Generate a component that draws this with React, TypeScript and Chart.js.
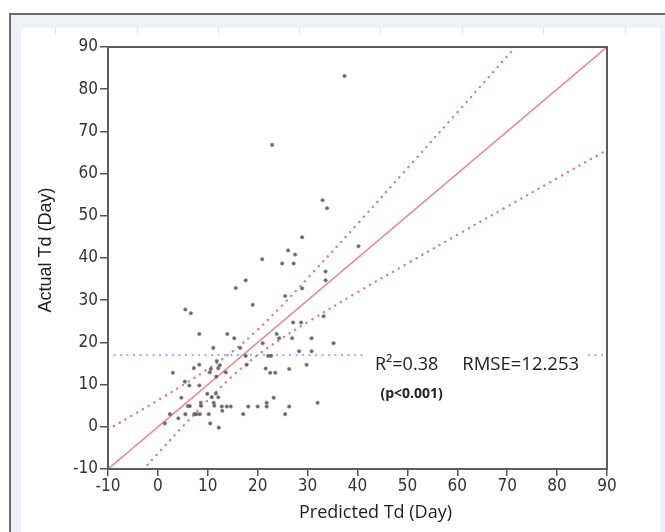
import React, { useEffect, useRef } from "react";
import { Chart, registerables } from "chart.js";

Chart.register(...registerables);

// ---------- data ----------
const predictedTd = [
  37.4, 22.9, 33.0, 33.9, 28.9, 40.2, 26.1, 27.5, 20.9, 24.9, 27.2, 33.6, 33.6, 17.6, 15.6, 28.9,
  25.5, 19.0, 5.5, 6.6, 33.2, 27.1, 28.7, 8.3, 13.9, 15.3, 23.8, 24.3, 26.9, 30.8, 35.2, 21.0,
  16.5, 11.1, 28.3, 30.8, 22.1, 22.7, 17.6, 11.8, 12.4, 8.3, 7.2, 17.8, 10.6, 10.4, 12.1, 13.6,
  3.0, 21.6, 22.5, 23.5, 26.3, 29.8, 11.7, 5.4, 6.3, 8.3, 4.7, 9.9, 11.6, 10.8, 12.1, 23.2,
  32.0, 21.8, 21.8, 26.3, 25.5, 20.0, 18.1, 17.1, 12.8, 13.8, 14.6, 11.2, 11.3, 8.6, 8.6, 6.0,
  6.4, 7.3, 7.7, 8.4, 5.5, 10.2, 12.9, 2.4, 4.1, 10.5, 12.2, 1.4,
];
const actualTd = [
  83.1, 66.8, 53.7, 51.8, 44.9, 42.8, 41.8, 40.8, 39.7, 38.7, 38.7, 36.8, 34.7, 34.7, 32.9, 32.8,
  31.0, 28.9, 27.8, 26.9, 26.2, 24.7, 24.7, 22.0, 22.0, 21.0, 22.0, 21.0, 21.0, 21.0, 19.8, 19.8,
  18.7, 18.7, 17.9, 17.9, 16.8, 16.8, 16.8, 15.6, 14.6, 14.7, 13.9, 14.7, 13.7, 12.9, 13.9, 12.9,
  12.8, 13.8, 12.8, 12.8, 13.7, 14.7, 11.9, 10.7, 9.8, 9.8, 6.9, 7.8, 7.9, 7.0, 7.0, 6.9,
  5.7, 5.7, 4.8, 4.8, 3.0, 4.8, 4.8, 3.0, 4.8, 4.8, 4.8, 5.7, 5.0, 5.7, 5.0, 4.9,
  4.9, 3.0, 3.0, 3.0, 3.0, 3.0, 3.8, 3.0, 2.0, 0.8, -0.2, 0.8,
];

const fitLineX = [-10, 90];
const fitLineY = [-10, 90];

const upperBandX = [-10, -5, 0, 5, 10, 15, 20, 25, 30, 40, 50, 60, 72];
const upperBandY = [-0.6, 2.8, 6.3, 9.9, 13.7, 17.9, 23.0, 28.9, 35.2, 48.1, 61.3, 74.5, 90.5];

const lowerBandX = [-3, 0, 5, 10, 15, 20, 25, 30, 40, 50, 60, 70, 80, 90];
const lowerBandY = [-10.2, -6.3, 0.1, 6.3, 12.1, 17.0, 21.1, 24.8, 31.9, 38.7, 45.5, 52.2, 58.9, 65.6];

const meanActual = 17;
const axisMin = -10;
const axisMax = 90;
const axisStep = 10;

const xAxisTitle = "Predicted Td (Day)";
const yAxisTitle = "Actual Td (Day)";
const r2Label = "R\u00B2=0.38";
const rmseLabel = "RMSE=12.253";
const pLabel = "(p<0.001)";

// where the statistics label sits (in data units)
const statsAnchorX = 43.5;
const rmseAnchorX = 61.0;
const pAnchorX = 44.6;
const pAnchorY = 7.8;

const toPoints = (xs: number[], ys: number[]) => xs.map((x, i) => ({ x, y: ys[i] }));

const tickFont = "'DejaVu Sans', sans-serif";
const calibriLike = "'Open Sans', 'Noto Sans', sans-serif";

const overlayPlugin = {
  id: "overlay",
  afterDraw(chart: any) {
    const { ctx, chartArea: a, scales } = chart;
    ctx.save();
    // frame around plot
    ctx.strokeStyle = "#5c5c5c";
    ctx.lineWidth = 2;
    ctx.strokeRect(a.left, a.top, a.right - a.left, a.bottom - a.top);

    // statistics label with white backing
    const sx = scales.x.getPixelForValue(statsAnchorX);
    const rx = scales.x.getPixelForValue(rmseAnchorX);
    const sy = scales.y.getPixelForValue(meanActual) + 10;
    ctx.fillStyle = "#ffffff";
    ctx.fillRect(sx - 8, sy - 18, rx - sx + 132, 32);
    ctx.fillStyle = "#222222";
    ctx.textBaseline = "middle";
    ctx.textAlign = "left";
    ctx.font = `400 18px ${calibriLike}`;
    ctx.fillText(r2Label, sx, sy);
    ctx.font = `400 18.5px ${calibriLike}`;
    ctx.fillText(rmseLabel, rx, sy);
    ctx.font = `700 14px ${calibriLike}`;
    ctx.fillText(pLabel, scales.x.getPixelForValue(pAnchorX), scales.y.getPixelForValue(pAnchorY));

    // axis titles
    ctx.fillStyle = "#1e1e1e";
    ctx.textAlign = "center";
    ctx.font = `400 18px ${calibriLike}`;
    ctx.fillText(xAxisTitle, (a.left + a.right) / 2 + 18, a.bottom + 44);
    ctx.save();
    ctx.translate(a.left - 62, (a.top + a.bottom) / 2 - 8);
    ctx.rotate(-Math.PI / 2);
    ctx.font = `400 18px 'Liberation Sans', Arial, sans-serif`;
    ctx.fillText(yAxisTitle, 0, 0);
    ctx.restore();
    ctx.restore();
  },
};

export default function App() {
  const canvasRef = useRef<HTMLCanvasElement | null>(null);

  useEffect(() => {
    if (!canvasRef.current) return;
    const dotted = {
      borderColor: "#e77690",
      borderWidth: 2.4,
      borderDash: [0.1, 6.6],
      borderCapStyle: "round",
      pointRadius: 0,
      showLine: true,
      fill: false,
      tension: 0.35,
    };
    const tickFontSpec = { family: tickFont, size: 17, weight: "condensed" };
    const chart = new Chart(canvasRef.current, {
      type: "scatter",
      data: {
        datasets: [
          {
            label: "Observations",
            data: toPoints(predictedTd, actualTd),
            pointRadius: 1.8,
            pointBackgroundColor: "rgba(70,70,70,0.8)",
            pointBorderColor: "rgba(130,130,130,0.45)",
            pointBorderWidth: 1,
            order: 1,
          },
          {
            label: "Fit",
            data: toPoints(fitLineX, fitLineY),
            showLine: true,
            borderColor: "#f08a8e",
            borderWidth: 1.7,
            pointRadius: 0,
            order: 2,
          },
          { label: "Upper", data: toPoints(upperBandX, upperBandY), ...dotted, order: 3 } as any,
          { label: "Lower", data: toPoints(lowerBandX, lowerBandY), ...dotted, order: 3 } as any,
          {
            label: "Mean",
            data: toPoints([axisMin, axisMax], [meanActual, meanActual]),
            showLine: true,
            borderColor: "#93a8ee",
            borderWidth: 2.2,
            borderDash: [0.1, 6.4],
            borderCapStyle: "round",
            pointRadius: 0,
            order: 4,
          } as any,
        ],
      },
      options: {
        animation: false,
        responsive: false,
        layout: { padding: { left: 0, top: 47, right: 58, bottom: 0 } },
        plugins: { legend: { display: false }, tooltip: { enabled: false } },
        scales: {
          x: {
            type: "linear",
            min: axisMin,
            max: axisMax,
            afterFit: (s: any) => {
              s.height = 63;
            },
            ticks: {
              stepSize: axisStep,
              color: "#333",
              padding: 0,
              font: tickFontSpec,
            },
            grid: {
              display: true,
              drawOnChartArea: false,
              drawTicks: true,
              tickLength: 7,
              color: "#555",
              lineWidth: 1.5,
            },
            border: { display: true, color: "#5c5c5c", width: 2 },
          },
          y: {
            type: "linear",
            min: axisMin,
            max: axisMax,
            afterFit: (s: any) => {
              s.width = 108;
            },
            ticks: {
              stepSize: axisStep,
              color: "#333",
              padding: 2,
              font: tickFontSpec,
            },
            grid: {
              display: true,
              drawOnChartArea: false,
              drawTicks: true,
              tickLength: 8,
              color: "#555",
              lineWidth: 1.5,
            },
            border: { display: true, color: "#5c5c5c", width: 2 },
          },
        },
      },
      plugins: [overlayPlugin],
    } as any);
    return () => chart.destroy();
  }, []);

  const topMarks = [55, 137, 218, 299, 380, 462, 543, 625];

  return (
    <div
      style={{
        position: "fixed",
        left: 0,
        top: 0,
        width: 665,
        height: 532,
        background: "#ffffff",
        overflow: "hidden",
      }}
    >
      <div
        style={{
          position: "absolute",
          left: 9,
          top: 13,
          width: 656,
          height: 519,
          boxSizing: "border-box",
          background: "#eff1f7",
          borderTop: "2px solid #6b6b6b",
          borderLeft: "2px solid #6b6b6b",
        }}
      />
      <div
        style={{
          position: "absolute",
          left: 21,
          top: 28,
          width: 639,
          height: 504,
          background: "#ffffff",
        }}
      />
      {topMarks.map((m) => (
        <div
          key={m}
          style={{ position: "absolute", left: m, top: 28, width: 1, height: 6, background: "#e2e2e2" }}
        />
      ))}
      <canvas
        ref={canvasRef}
        width={665}
        height={532}
        style={{ position: "absolute", left: 0, top: 0, width: 665, height: 532 }}
      />
    </div>
  );
}
